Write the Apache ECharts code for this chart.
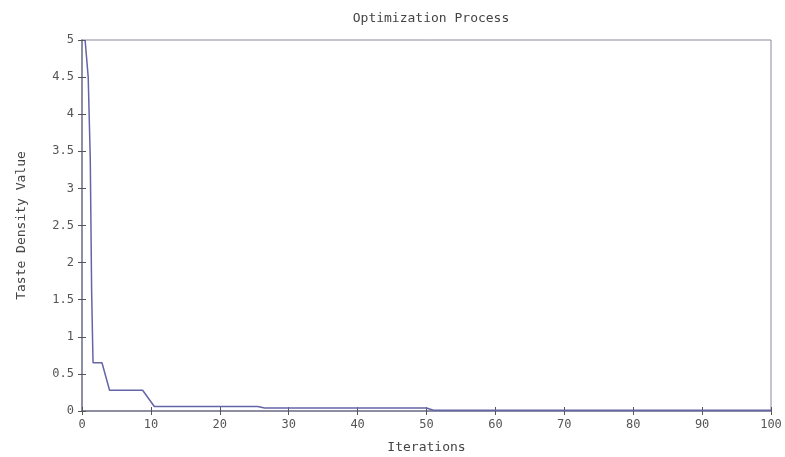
<!DOCTYPE html>
<html>
<head>
<meta charset="utf-8">
<script src="https://cdn.jsdelivr.net/npm/echarts@6/dist/echarts.min.js"></script>
<style>html,body{margin:0;padding:0;background:#fff}#c{width:785px;height:457px}</style>
</head>
<body>
<div id="c"></div>
<script>
var iterations = [0.45, 0.9, 1.2, 1.4, 1.6, 2.9, 4.0, 8.8, 10.5, 25.5, 26.5, 50, 51, 100];
var tasteDensity = [5.0, 4.5, 3.4, 1.6, 0.65, 0.65, 0.28, 0.28, 0.06, 0.06, 0.04, 0.04, 0.01, 0.01];
var xTicks = [0, 10, 20, 30, 40, 50, 60, 70, 80, 90, 100];
var yTicks = [0, 0.5, 1, 1.5, 2, 2.5, 3, 3.5, 4, 4.5, 5];

var data = iterations.map(function (x, i) { return [x, tasteDensity[i]]; });
var axisColor = '#8a8aa0';
var textColor = '#555';
var font = '"DejaVu Sans Mono", "Liberation Mono", monospace';

var chart = echarts.init(document.getElementById('c'));
chart.setOption({
  animation: false,
  backgroundColor: '#fff',
  title: {
    text: 'Optimization Process',
    left: 426, top: 7, textAlign: 'center',
    textStyle: { fontFamily: font, fontSize: 13, fontWeight: 'normal', color: '#444' }
  },
  grid: { left: 82, right: 14, top: 40, bottom: 46, show: true, borderColor: axisColor, borderWidth: 1,
    containLabel: false, outerBoundsMode: 'none' },
  xAxis: [{
    type: 'value', min: 0, max: 100, interval: 10,
    name: 'Iterations', nameLocation: 'middle', nameGap: 30,
    nameTextStyle: { fontFamily: font, fontSize: 13, color: '#444' },
    axisLine: { show: true, lineStyle: { color: axisColor, width: 1.5 } },
    axisTick: { inside: true, length: 4, lineStyle: { color: '#555' } },
    axisLabel: { fontFamily: font, fontSize: 12, color: textColor, margin: 8,
      formatter: function (v) { return xTicks.indexOf(v) >= 0 ? String(v) : ''; } },
    splitLine: { show: false }
  }, {
    type: 'value', min: 0, max: 100, interval: 10, position: 'top',
    axisLine: { show: true, lineStyle: { color: axisColor, width: 1.5 } },
    axisTick: { inside: true, length: 4, lineStyle: { color: '#555' } },
    axisLabel: { show: false }, splitLine: { show: false }
  }],
  yAxis: [{
    type: 'value', min: 0, max: 5, interval: 0.5,
    name: 'Taste Density Value', nameLocation: 'middle', nameGap: 54,
    nameTextStyle: { fontFamily: font, fontSize: 13, color: '#444' },
    axisLine: { show: true, lineStyle: { color: axisColor, width: 1.5 } },
    axisTick: { inside: true, length: 4, lineStyle: { color: '#555' } },
    axisLabel: { fontFamily: font, fontSize: 12, color: textColor, margin: 8,
      formatter: function (v) { return yTicks.indexOf(v) >= 0 ? String(v) : ''; } },
    splitLine: { show: false }
  }, {
    type: 'value', min: 0, max: 5, interval: 0.5, position: 'right',
    axisLine: { show: true, lineStyle: { color: axisColor, width: 1.5 } },
    axisTick: { inside: true, length: 4, lineStyle: { color: '#555' } },
    axisLabel: { show: false }, splitLine: { show: false }
  }],
  series: [{
    type: 'line',
    data: data,
    showSymbol: false,
    clip: true,
    lineStyle: { color: '#6464a8', width: 1.5 }
  }]
});
</script>
</body>
</html>
